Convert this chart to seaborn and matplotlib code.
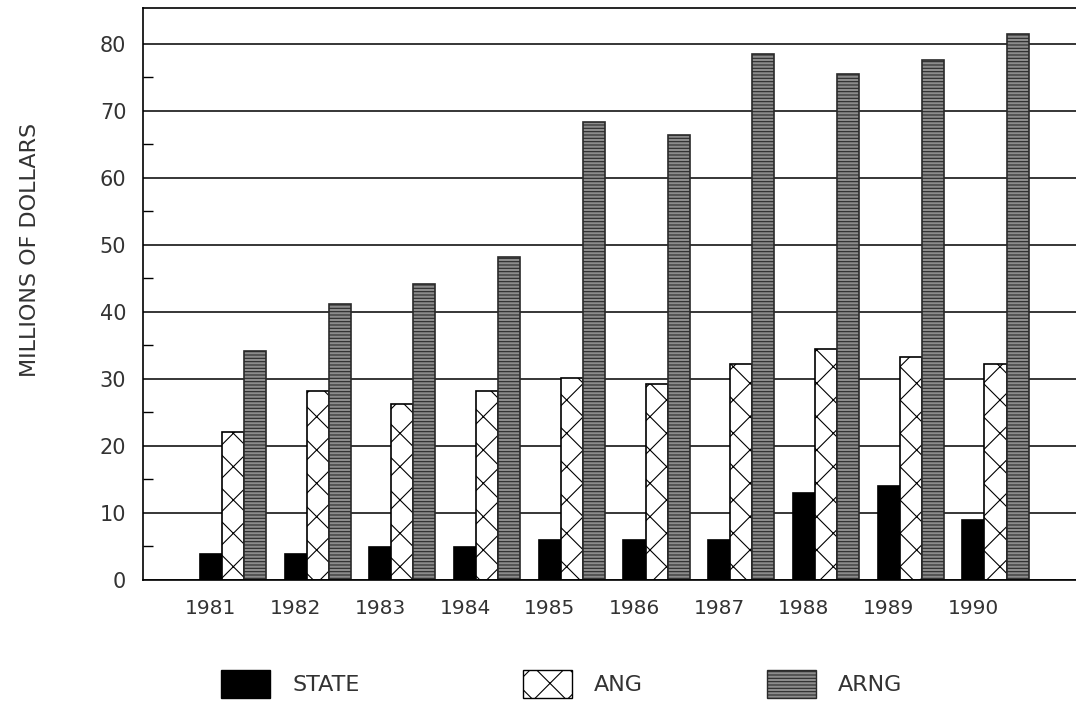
import pandas as pd
import numpy as np
import seaborn as sns
import matplotlib.pyplot as plt
from matplotlib.patches import Patch
from matplotlib.ticker import FixedLocator

years = ['1981', '1982', '1983', '1984', '1985', '1986', '1987', '1988', '1989', '1990']
state = [3.9, 3.9, 4.9, 4.9, 6.0, 6.0, 6.0, 13.0, 14.0, 8.9]
ang = [22.0, 28.2, 26.3, 28.2, 30.1, 29.3, 32.2, 34.4, 33.2, 32.2]
arng = [34.2, 41.2, 44.2, 48.2, 68.3, 66.3, 78.4, 75.4, 77.5, 81.4]
series = ['STATE', 'ANG', 'ARNG']

df = pd.DataFrame({
    'year': years * 3,
    'value': state + ang + arng,
    'series': [s for s in series for _ in years],
})

sns.set_style('white')
plt.rcParams['font.family'] = ['DejaVu Sans']
plt.rcParams['hatch.linewidth'] = 0.8

fig = plt.figure(figsize=(10.76, 7.06), dpi=100)
ax = fig.add_axes([143 / 1076, 126 / 706, 933 / 1076, 572 / 706])

# styles: black solid, white cross-hatch, gray horizontal texture
styles = {
    'STATE': dict(facecolor='black', hatch=None, edgecolor='black'),
    'ANG': dict(facecolor='white', hatch='x', edgecolor='black'),
    'ARNG': dict(facecolor='#8c8c8c', hatch='-----', edgecolor='#2a2a2a'),
}

sns.barplot(data=df, x='year', y='value', hue='series', hue_order=series,
            palette=['black', 'white', '#8c8c8c'], width=0.78, gap=0,
            edgecolor='black', linewidth=1.2, legend=False, ax=ax)

for cont, name in zip(ax.containers, series):
    st = styles[name]
    for bar in cont:
        bar.set_facecolor(st['facecolor'])
        bar.set_edgecolor(st['edgecolor'])
        if st['hatch']:
            bar.set_hatch(st['hatch'])

ax.set_ylim(0, 85.3)
ax.set_xlim(-1.06, 9.95)
ax.set_yticks(range(0, 90, 10))
ax.yaxis.set_minor_locator(FixedLocator(np.arange(5, 80, 10)))
ax.grid(axis='y', which='major', color='black', linewidth=1.1)
ax.set_axisbelow(True)
ax.tick_params(axis='y', which='major', length=0, pad=12, labelsize=15, labelcolor='#333333')
ax.tick_params(axis='y', which='minor', direction='in', length=7, width=1, color='black', left=True)

ax.set_xticks(np.arange(len(years)) - 0.26)
ax.set_xticklabels(years)
ax.tick_params(axis='x', length=0, pad=14, labelsize=14.5, labelcolor='#333333')
ax.set_xlabel('')

ax.set_ylabel('MILLIONS OF DOLLARS', fontsize=16, color='#333333')
ax.yaxis.set_label_coords(-0.11, 0.577)

for side in ['left', 'top', 'bottom']:
    ax.spines[side].set_color('black')
    ax.spines[side].set_linewidth(1.2)
ax.spines['right'].set_visible(False)

handles = [Patch(facecolor='black', edgecolor='black', label='STATE'),
           Patch(facecolor='white', edgecolor='black', hatch='x', label='ANG'),
           Patch(facecolor='#8c8c8c', edgecolor='#2a2a2a', hatch='-----', label='ARNG')]
legend_x = [221, 523, 767]
for h, lx in zip(handles, legend_x):
    fig.legend(handles=[h], loc='center left', bbox_to_anchor=(lx / 1076, 1 - 684 / 706),
               frameon=False, fontsize=16, handlelength=2.2, handleheight=1.5,
               handletextpad=1.0, borderpad=0, borderaxespad=0, labelcolor='#333333')

plt.savefig('out.png', dpi=100)
